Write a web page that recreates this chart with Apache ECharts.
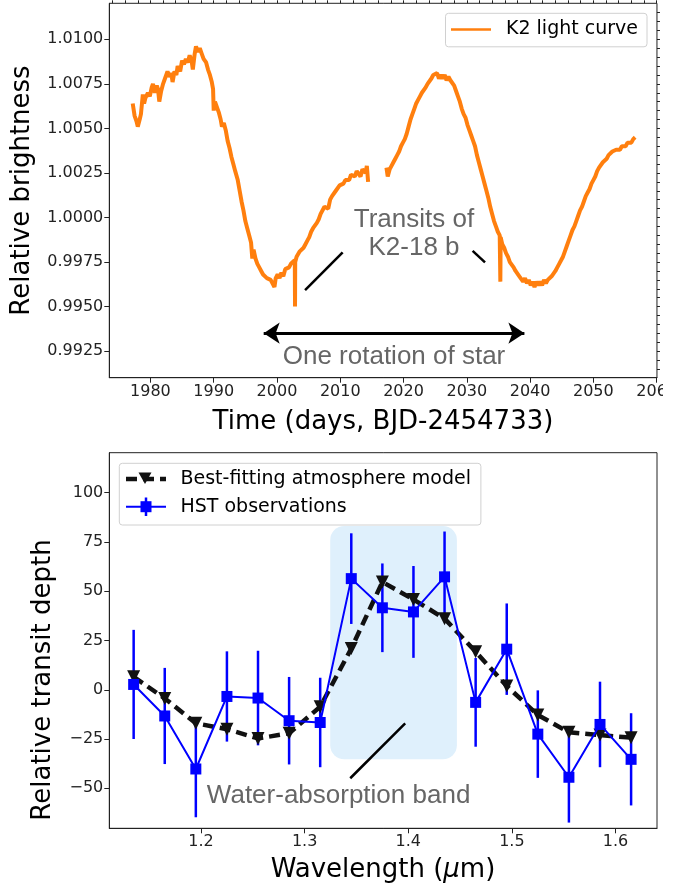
<!DOCTYPE html>
<html><head><meta charset="utf-8">
<script src="https://cdn.jsdelivr.net/npm/echarts@6/dist/echarts.min.js"></script>
<style>html,body{margin:0;padding:0;background:#fff}#c{width:680px;height:888px}</style>
</head><body><div id="c"></div>
<script>
// ---------- Top panel: K2 light curve ----------
const lcTime = [1977.2,1977.5,1977.8,1978.0,1978.3,1978.5,1978.8,1979.0,1979.2,1979.6,1979.9,1980.2,1980.4,1980.7,1981.0,1981.2,1981.4,1981.7,1982.0,1982.3,1982.7,1983.0,1983.3,1983.5,1983.8,1984.1,1984.3,1984.7,1985.0,1985.3,1985.6,1985.9,1986.2,1986.5,1986.7,1987.0,1987.2,1987.5,1987.8,1988.1,1988.4,1988.8,1989.1,1989.4,1989.7,1989.9,1990.0,1990.2,1990.5,1990.8,1991.1,1991.3,1991.6,1991.9,1992.2,1992.5,1992.8,1993.1,1993.4,1993.8,1994.1,1994.4,1994.7,1995.0,1995.3,1995.6,1995.9,1996.1,1996.3,1996.6,1996.9,1997.2,1997.5,1997.8,1998.1,1998.4,1998.7,1999.0,1999.3,1999.6,1999.8,2000.1,2000.4,2000.7,2001.0,2001.3,2001.6,2001.9,2002.2,2002.5,2002.8,2002.82,2002.85,2002.88,2003.1,2003.3,2003.6,2003.9,2004.2,2004.5,2004.8,2005.1,2005.4,2005.7,2006.0,2006.3,2006.6,2006.9,2007.2,2007.5,2007.8,2008.1,2008.4,2008.7,2009.0,2009.3,2009.6,2009.9,2010.2,2010.5,2010.8,2011.1,2011.4,2011.7,2012.0,2012.3,2012.6,2012.9,2013.2,2013.5,2013.8,2014.0,2014.2,2014.4,2015.9,2017.3,2017.5,2017.8,2018.1,2018.4,2018.7,2019.0,2019.3,2019.6,2019.9,2020.2,2020.5,2020.8,2021.1,2021.4,2021.7,2022.0,2022.3,2022.6,2022.9,2023.2,2023.5,2023.8,2024.1,2024.4,2024.7,2025.0,2025.3,2025.6,2025.9,2026.2,2026.5,2026.8,2027.1,2027.4,2027.7,2028.0,2028.3,2028.6,2028.9,2029.2,2029.5,2029.8,2030.1,2030.4,2030.7,2031.0,2031.3,2031.6,2031.9,2032.2,2032.5,2032.8,2033.1,2033.4,2033.7,2034.0,2034.3,2034.6,2034.9,2035.2,2035.25,2035.3,2035.35,2035.6,2035.9,2036.2,2036.5,2036.8,2037.1,2037.4,2037.7,2038.0,2038.3,2038.6,2038.9,2039.2,2039.5,2039.8,2040.1,2040.4,2040.7,2041.0,2041.3,2041.6,2041.9,2042.2,2042.5,2042.8,2043.1,2043.4,2043.7,2044.0,2044.3,2044.6,2044.9,2045.2,2045.5,2045.8,2046.1,2046.4,2046.7,2047.0,2047.3,2047.6,2047.9,2048.2,2048.5,2048.8,2049.1,2049.4,2049.7,2050.0,2050.3,2050.6,2050.9,2051.2,2051.5,2051.8,2052.1,2052.4,2052.7,2053.0,2053.3,2053.6,2053.9,2054.2,2054.5,2054.8,2055.1,2055.4,2055.7,2056.0,2056.3,2056.6];
const lcFlux = [1.0064,1.0057,1.0054,1.0051,1.0055,1.0058,1.0069,1.0064,1.0067,1.0070,1.0068,1.0073,1.0075,1.0070,1.0074,1.0072,1.0065,1.0071,1.0075,1.0078,1.0082,1.0079,1.0081,1.0076,1.0082,1.0080,1.0085,1.0082,1.0088,1.0086,1.0089,1.0087,1.0091,1.0088,1.0083,1.0092,1.0096,1.0093,1.0095,1.0092,1.0089,1.0087,1.0083,1.0080,1.0076,1.0072,1.0060,1.0065,1.0066,1.0059,1.0055,1.0051,1.0053,1.0049,1.0043,1.0039,1.0034,1.0030,1.0026,1.0021,1.0015,1.0009,1.0004,0.9998,0.9994,0.9990,0.9986,0.9977,0.9982,0.9977,0.9974,0.9972,0.9970,0.9968,0.9969,0.9966,0.9967,0.9965,0.9966,0.9961,0.9966,0.9968,0.9966,0.9969,0.9967,0.9971,0.9970,0.9972,0.9974,0.9973,0.9976,0.9974,0.9950,0.9975,0.9978,0.9978,0.9981,0.9980,0.9983,0.9985,0.9987,0.9989,0.9992,0.9994,0.9993,0.9997,0.9999,1.0002,1.0003,1.0006,1.0007,1.0005,1.0010,1.0012,1.0013,1.0015,1.0016,1.0018,1.0017,1.0019,1.0021,1.0022,1.0021,1.0024,1.0025,1.0023,1.0026,1.0025,1.0023,1.0027,1.0028,1.0025,1.0029,1.0020,null,1.0028,1.0023,1.0027,1.0029,1.0031,1.0033,1.0035,1.0037,1.0040,1.0042,1.0044,1.0047,1.0051,1.0055,1.0058,1.0061,1.0064,1.0066,1.0068,1.0070,1.0071,1.0073,1.0075,1.0076,1.0078,1.0080,1.0079,1.0081,1.0078,1.0080,1.0078,1.0080,1.0077,1.0079,1.0077,1.0076,1.0074,1.0071,1.0068,1.0065,1.0061,1.0058,1.0056,1.0052,1.0049,1.0046,1.0043,1.0040,1.0035,1.0031,1.0027,1.0023,1.0019,1.0015,1.0011,1.0006,1.0002,0.9998,0.9995,0.9992,0.9990,0.9990,0.9964,0.9989,0.9985,0.9983,0.9980,0.9978,0.9975,0.9974,0.9972,0.9970,0.9969,0.9967,0.9966,0.9964,0.9966,0.9963,0.9965,0.9962,0.9964,0.9961,0.9964,0.9962,0.9964,0.9962,0.9965,0.9963,0.9965,0.9964,0.9967,0.9968,0.9970,0.9972,0.9974,0.9976,0.9978,0.9981,0.9984,0.9987,0.9990,0.9993,0.9995,0.9998,1.0001,1.0004,1.0006,1.0009,1.0012,1.0014,1.0016,1.0019,1.0021,1.0023,1.0026,1.0028,1.0029,1.0031,1.0032,1.0033,1.0035,1.0035,1.0037,1.0036,1.0038,1.0039,1.0038,1.0040,1.0041,1.0040,1.0042,1.0043,1.0042,1.0044,1.0045];
const topXTicks = [1980,1990,2000,2010,2020,2030,2040,2050,2060];
const topYTicks = [0.9925,0.9950,0.9975,1.0000,1.0025,1.0050,1.0075,1.0100];

// ---------- Bottom panel: transmission spectrum ----------
const wavelength = [1.135,1.165,1.195,1.225,1.255,1.285,1.315,1.345,1.375,1.405,1.435,1.465,1.495,1.525,1.555,1.585,1.615];
const hstDepth   = [2.7,-13.3,-40.2,-3.4,-4.2,-15.7,-16.6,56.4,41.6,39.5,57.3,-6.4,20.6,-22.5,-44.4,-17.6,-35.3];
const hstErr     = [27.7,24.4,24.5,22.9,24.0,22.2,22.7,23.0,22.5,23.3,23.0,22.5,23.2,22.2,23.0,21.7,23.4];
const modelDepth = [6.6,-4.4,-17.0,-20.0,-24.7,-22.1,-8.6,20.9,54.7,45.8,36.1,19.3,1.9,-12.8,-21.6,-23.0,-24.3];
const bottomXTicks = [1.2,1.3,1.4,1.5,1.6];
const bottomYTicks = [-50,-25,0,25,50,75,100];
const waterBand = [1.3247, 1.4469, -35.3, 83.1];

const topXMinor = []; for (let v = 1974; v <= 2060; v += 2) topXMinor.push(v);
const topYMinor = []; for (let k = 0; k <= 40; k++) topYMinor.push(+(0.9915 + k*0.0005).toFixed(4));

const AX = '#222';
const F = 'DejaVu Sans';
const chart = echarts.init(document.getElementById('c'), null, {renderer:'canvas'});

const lcData = lcTime.map((t,i)=>[t, lcFlux[i]]);
const errData = wavelength.map((w,i)=>[w, hstDepth[i]-hstErr[i], hstDepth[i]+hstErr[i]]);

function mainAxis(grid, min, max, ticks, fmt){
  return {gridIndex:grid, type:'value', min, max,
    axisLine:{onZero:false, lineStyle:{color:AX, width:1}},
    axisTick:{customValues:ticks, length:5, lineStyle:{color:AX, width:1}},
    axisLabel:{customValues:ticks, fontSize:16, fontFamily:F, color:AX, margin:6, formatter:fmt},
    splitLine:{show:false}};
}

const option = {
  animation:false,
  grid:[
    {left:109.3, top:3.3, width:547.7, height:374.4, show:true, borderColor:AX, borderWidth:1, backgroundColor:'transparent'},
    {left:109.3, top:452.7, width:547.7, height:375.6, show:true, borderColor:AX, borderWidth:1, backgroundColor:'transparent'}
  ],
  xAxis:[
    mainAxis(0, 1973.5, 2060.05, topXTicks, v=>String(Math.round(v))),
    {gridIndex:0, type:'value', min:1973.5, max:2060.05, axisLine:{show:false},
      axisTick:{customValues:topXMinor, length:3, lineStyle:{color:AX}}, axisLabel:{show:false}, splitLine:{show:false}},
    mainAxis(1, 1.1115, 1.640, bottomXTicks, v=>v.toFixed(1))
  ],
  yAxis:[
    mainAxis(0, 0.99101, 1.01202, topYTicks, v=>v.toFixed(4)),
    {gridIndex:0, type:'value', min:0.99101, max:1.01202, axisLine:{show:false},
      axisTick:{customValues:topYMinor.filter(v=>v>0.99101&&v<1.01202), length:3, lineStyle:{color:AX}}, axisLabel:{show:false}, splitLine:{show:false}},
    mainAxis(1, -70.3, 120.3, bottomYTicks, v=>(v<0?'\u2212'+Math.abs(v):String(v)))
  ],
  series:[
    {type:'line', xAxisIndex:0, yAxisIndex:0, data:lcData, showSymbol:false, connectNulls:false,
      lineStyle:{color:'#ff7f0e', width:4}, itemStyle:{color:'#ff7f0e'}, silent:true, z:3,
      markLine:{silent:true, symbol:'none', label:{show:false}, animation:false,
        lineStyle:{color:'#000', width:2.5, type:'solid'},
        data:[
          [{coord:[1997.9,0.99351], symbol:'arrow', symbolSize:16, lineStyle:{width:3}},{coord:[2039.1,0.99351], symbol:'arrow', symbolSize:16}],
          [{coord:[2004.44,0.99592]},{coord:[2010.38,0.99804]}],
          [{coord:[2030.92,0.99813]},{coord:[2032.88,0.99748]}]
        ]}
    },
    {type:'custom', xAxisIndex:2, yAxisIndex:2, data:[waterBand], silent:true, z:1,
      encode:{x:[0,1], y:[2,3]},
      renderItem:(params, api)=>{
        const p0 = api.coord([api.value(0), api.value(3)]);
        const p1 = api.coord([api.value(1), api.value(2)]);
        return {type:'rect', shape:{x:p0[0], y:p0[1], width:p1[0]-p0[0], height:p1[1]-p0[1], r:14}, style:{fill:'#dff0fc'}};
      },
      markLine:{silent:true, symbol:'none', label:{show:false}, animation:false,
        lineStyle:{color:'#000', width:2.5, type:'solid'},
        data:[[{coord:[1.344,-44.9]},{coord:[1.397,-17.0]}]]}
    },
    {type:'custom', xAxisIndex:2, yAxisIndex:2, data:errData, silent:true, z:2,
      encode:{x:0, y:[1,2]},
      renderItem:(params, api)=>{
        const a = api.coord([api.value(0), api.value(1)]);
        const b = api.coord([api.value(0), api.value(2)]);
        return {type:'line', shape:{x1:a[0], y1:a[1], x2:b[0], y2:b[1]}, style:{stroke:'#0000ff', lineWidth:2.5}};
      }
    },
    {type:'line', name:'Best-fitting atmosphere model', xAxisIndex:2, yAxisIndex:2, z:3,
      data:wavelength.map((w,i)=>[w, modelDepth[i]]),
      symbol:'triangle', symbolRotate:180, symbolSize:13, showSymbol:true,
      lineStyle:{color:'#111', width:4.5, type:[11,6]}, itemStyle:{color:'#111'}, silent:true},
    {type:'line', name:'HST observations', xAxisIndex:2, yAxisIndex:2, z:4,
      data:wavelength.map((w,i)=>[w, hstDepth[i]]),
      symbol:'rect', symbolSize:11, showSymbol:true,
      lineStyle:{color:'#0000ff', width:2}, itemStyle:{color:'#0000ff'}, silent:true}
  ],
  graphic:[
    {type:'rect', left:663, top:380, shape:{width:17, height:30}, style:{fill:'#fff'}, z:100},
    {type:'text', x:22, y:190.5, rotation:Math.PI/2, style:{text:'Relative brightness', font:'26px "DejaVu Sans"', fill:'#000', textAlign:'center', textVerticalAlign:'middle'}},
    {type:'text', x:383, y:422, style:{text:'Time (days, BJD-2454733)', font:'26px "DejaVu Sans"', fill:'#000', textAlign:'center', textVerticalAlign:'middle'}},
    {type:'text', x:43, y:680, rotation:Math.PI/2, style:{text:'Relative transit depth', font:'26px "DejaVu Sans"', fill:'#000', textAlign:'center', textVerticalAlign:'middle'}},
    {type:'text', x:383, y:870, style:{text:'{n|Wavelength (}{i|\u03bc}{n|m)}', textAlign:'center', textVerticalAlign:'middle',
      rich:{n:{font:'26px "DejaVu Sans"', fill:'#000'}, i:{font:'italic 26px "DejaVu Sans"', fill:'#000'}}}},
    {type:'text', x:414, y:220, style:{text:'Transits of', font:'26px "Liberation Sans"', fill:'#666', textAlign:'center', textVerticalAlign:'middle'}},
    {type:'text', x:414, y:248, style:{text:'K2-18 b', font:'26px "Liberation Sans"', fill:'#666', textAlign:'center', textVerticalAlign:'middle'}},
    {type:'text', x:394, y:357, style:{text:'One rotation of star', font:'26px "Liberation Sans"', fill:'#666', textAlign:'center', textVerticalAlign:'middle'}},
    {type:'text', x:338.6, y:796, style:{text:'Water-absorption band', font:'26px "Liberation Sans"', fill:'#666', textAlign:'center', textVerticalAlign:'middle'}},
    {type:'rect', shape:{x:445.5, y:13.3, width:201.5, height:33.5, r:3}, style:{fill:'rgba(255,255,255,0.8)', stroke:'#d0d0d0', lineWidth:1}, z:50},
    {type:'line', shape:{x1:451, y1:29.5, x2:491, y2:29.5}, style:{stroke:'#ff7f0e', lineWidth:2.5}, z:51},
    {type:'text', x:506, y:29.5, style:{text:'K2 light curve', font:'19px "DejaVu Sans"', fill:'#000', textVerticalAlign:'middle'}, z:51},
    {type:'rect', shape:{x:119.3, y:463.3, width:361.6, height:61.7, r:3}, style:{fill:'rgba(255,255,255,0.8)', stroke:'#d0d0d0', lineWidth:1}, z:50},
    {type:'line', shape:{x1:126, y1:479, x2:166, y2:479}, style:{stroke:'#111', lineWidth:4.5, lineDash:[11,6]}, z:51},
    {type:'polygon', shape:{points:[[138.5,472.5],[151.5,472.5],[145,484]]}, style:{fill:'#111'}, z:52},
    {type:'text', x:180.5, y:479, style:{text:'Best-fitting atmosphere model', font:'19px "DejaVu Sans"', fill:'#000', textVerticalAlign:'middle'}, z:51},
    {type:'line', shape:{x1:126, y1:506.7, x2:166, y2:506.7}, style:{stroke:'#0000ff', lineWidth:2}, z:51},
    {type:'line', shape:{x1:146, y1:497.5, x2:146, y2:516}, style:{stroke:'#0000ff', lineWidth:2.5}, z:51},
    {type:'rect', shape:{x:140.5, y:501.2, width:11, height:11}, style:{fill:'#0000ff'}, z:52},
    {type:'text', x:180.5, y:506.7, style:{text:'HST observations', font:'19px "DejaVu Sans"', fill:'#000', textVerticalAlign:'middle'}, z:51}
  ]
};
chart.setOption(option);
</script>
</body></html>
